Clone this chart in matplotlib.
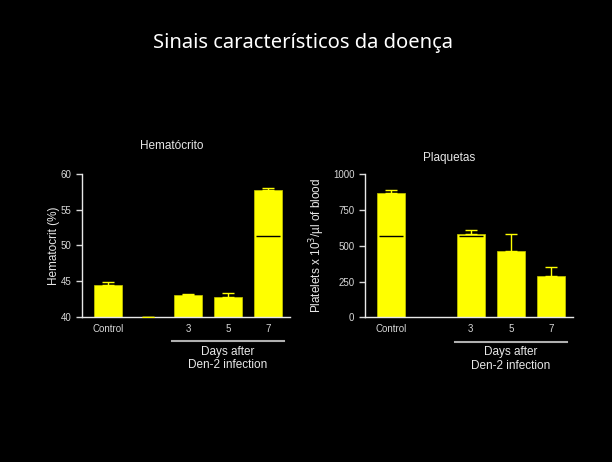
import numpy as np
import matplotlib.pyplot as plt

plt.rcParams['font.family'] = ['Liberation Sans', 'DejaVu Sans']

categories = ["Control", "", "3", "5", "7"]

hem_mean = [44.4, 40.0, 43.0, 42.8, 57.7]
hem_err = [0.5, 0.0, 0.2, 0.5, 0.3]
hem_inner = [np.nan, np.nan, np.nan, np.nan, 51.3]

plq_mean = [867, np.nan, 580, 461, 289]
plq_err = [23, 0, 28, 119, 65]
plq_inner = [565, np.nan, 570, np.nan, np.nan]

hem_ticks = [40, 45, 50, 55, 60]
plq_ticks = [0, 250, 500, 750, 1000]

fg = "#e8e8e8"
bar_col = "#ffff00"


def draw_panel(ax, means, errs, inner, ticks, ylabel, pad):
    x = np.arange(len(categories))
    ax.set_facecolor("black")
    ax.bar(x, means, width=0.7, color=bar_col, edgecolor="#c8c800",
           linewidth=0.5, zorder=2)
    ax.errorbar(x, means, yerr=[np.zeros(len(errs)), errs], fmt="none",
                ecolor=bar_col, elinewidth=1.0, capsize=4, capthick=1.0,
                zorder=3)
    for xi, v in zip(x, inner):
        if not np.isnan(v):
            ax.hlines(v, xi - 0.3, xi + 0.3, color="black", lw=1.0, zorder=4)
    ax.set_xlim(-0.65, 4.55)
    ax.set_ylim(ticks[0], ticks[-1])
    ax.set_yticks(ticks)
    ax.set_xticks([0, 2, 3, 4])
    ax.set_xticklabels([categories[i] for i in [0, 2, 3, 4]])
    for s in ["top", "right"]:
        ax.spines[s].set_visible(False)
    for s in ["left", "bottom"]:
        ax.spines[s].set_color(fg)
        ax.spines[s].set_linewidth(1.0)
    ax.tick_params(axis="y", colors="#d8d8d8", labelsize=7, length=4,
                   width=1.0)
    ax.tick_params(axis="x", colors="#d8d8d8", labelsize=7, length=0, pad=5)
    ax.set_ylabel(ylabel, color=fg, fontsize=8.5, labelpad=pad)
    # group line and label under days
    ax.plot([1.6, 4.4], [-0.17, -0.17], transform=ax.get_xaxis_transform(),
            color="#b0b0b0", lw=1.5, clip_on=False)
    ax.text(3.0, -0.20, "Days after\nDen-2 infection",
            transform=ax.get_xaxis_transform(), ha="center", va="top",
            color=fg, fontsize=8.5, linespacing=1.2)


fig = plt.figure(figsize=(6.12, 4.62), dpi=100, facecolor="black")

ax1 = fig.add_axes([0.134, 0.314, 0.340, 0.310])
draw_panel(ax1, hem_mean, hem_err, hem_inner, hem_ticks, "Hematocrit (%)", 0.5)

ax2 = fig.add_axes([0.596, 0.313, 0.340, 0.310])
draw_panel(ax2, plq_mean, plq_err, plq_inner, plq_ticks,
           "Platelets x 10$^3$/\u00b5l of blood", 4)

fig.text(0.495, 0.907, "Sinais caracter\u00edsticos da doen\u00e7a",
         ha="center", va="center", color="white", fontsize=14.5,
         family=["Noto Sans", "DejaVu Sans"])
fig.text(0.281, 0.684, "Hemat\u00f3crito", ha="center", va="center",
         color=fg, fontsize=8.5)
fig.text(0.734, 0.658, "Plaquetas", ha="center", va="center",
         color=fg, fontsize=8.5)

fig.savefig("out.png", dpi=100, facecolor="black")
